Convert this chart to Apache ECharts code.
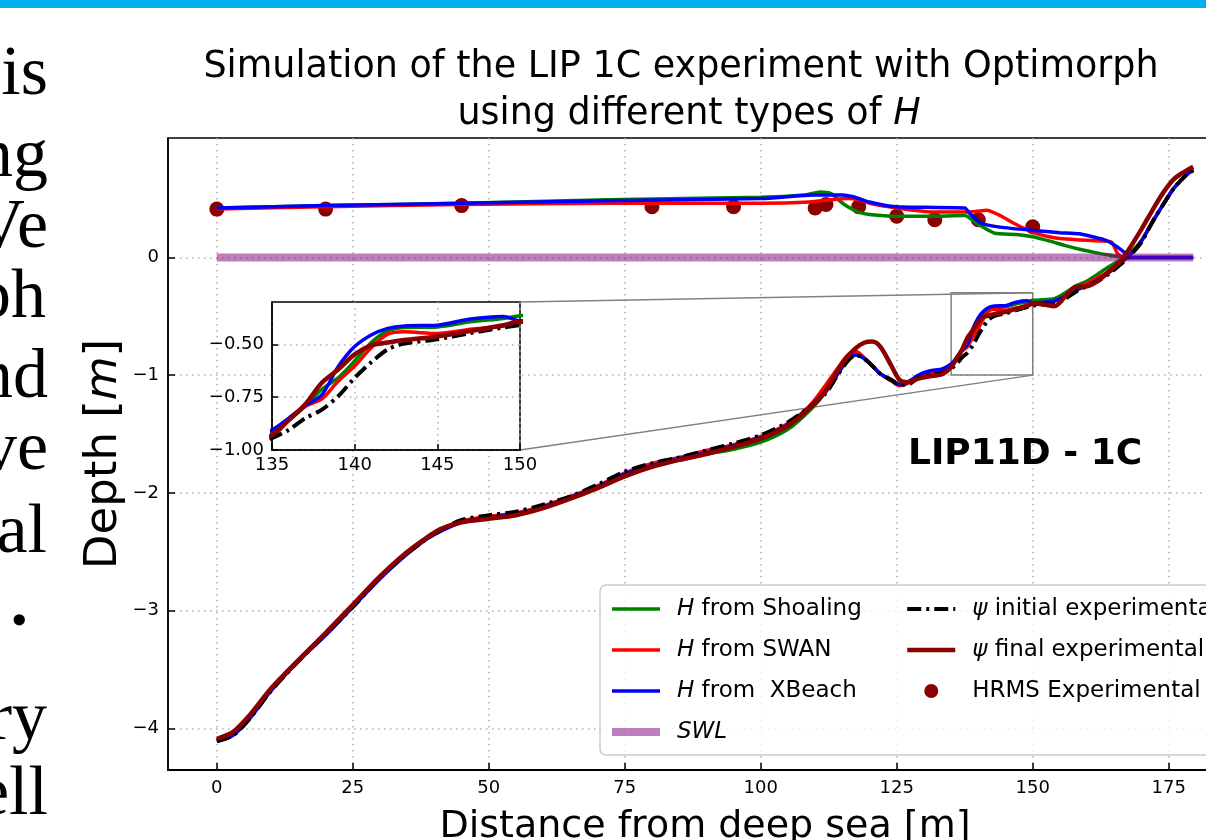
<!DOCTYPE html>
<html>
<head>
<meta charset="utf-8">
<script src="https://cdn.jsdelivr.net/npm/echarts@6/dist/echarts.min.js"></script>
<style>
  html, body { margin: 0; padding: 0; background: #fff; overflow: hidden; width: 1206px; height: 840px; }
  #bar { position: absolute; left: 0; top: 0; width: 1206px; height: 8px; background: #00b0f0; }
  .side { position: absolute; left: 0; width: 50px; height: 80px; overflow: hidden; font-family: 'Liberation Serif', 'DejaVu Serif', serif; font-size: 70px; line-height: 70px; color: #000; }
  .side span { position: absolute; top: 0; white-space: nowrap; }
  #main { position: absolute; left: 0; top: 0; width: 1300px; height: 840px; }
</style>
</head>
<body>
<div id="bar"></div>
<div id="side"></div>
<div id="main"></div>
<script>
// slide text showing at the left of the figure: [text, baseline y, right edge]
const sideText = [['is', 95, 48], ['ng', 177, 48], ['Ve', 248, 48], ['ph', 318, 46], ['nd', 398, 48],
                  ['ve', 470, 48], ['al', 553, 47], ['.', 626, 28], ['ry', 740, 47], ['ell', 815, 48]];

// axes
const xTicks = [0, 25, 50, 75, 100, 125, 150, 175];
const yTicks = [-4, -3, -2, -1, 0];
const insetXTicks = [135, 140, 145, 150];
const insetYTicks = [-1.0, -0.75, -0.5];
const insetXRange = [135, 150];
const insetYRange = [-1.0, -0.3];

// bottom profiles (distance, depth)
const profX = [0, 3, 6, 10, 15, 20, 25, 30, 34, 38, 41, 45, 50, 55, 60, 65, 70, 75, 80, 85,
  90, 95, 100, 105, 109, 112, 114, 116, 117.5, 119, 120.5, 122, 124, 125.5, 127, 129, 131, 133.5, 135, 136,
  137, 138, 139, 140, 141, 142, 143, 145, 147, 149, 150, 152, 154, 156, 158, 160, 162, 164, 166, 167,
  168, 170, 172, 174, 176, 178, 179.5];
const finalExp = [-4.09, -4.03, -3.89, -3.66, -3.42, -3.19, -2.95, -2.71, -2.54, -2.40, -2.31, -2.25, -2.22, -2.19, -2.13, -2.05, -1.96, -1.86, -1.78, -1.72,
  -1.67, -1.61, -1.54, -1.43, -1.28, -1.13, -0.97, -0.84, -0.77, -0.725, -0.715, -0.76, -0.92, -1.04, -1.06, -1.03, -1.01, -0.99, -0.93, -0.86,
  -0.785, -0.683, -0.619, -0.548, -0.505, -0.492, -0.48, -0.463, -0.437, -0.41, -0.392, -0.40, -0.415, -0.33, -0.25, -0.245, -0.20, -0.12, -0.04, 0.02,
  0.09, 0.24, 0.40, 0.55, 0.667, 0.73, 0.77];
const initialExp = [-4.11, -4.06, -3.92, -3.68, -3.43, -3.20, -2.97, -2.72, -2.55, -2.41, -2.32, -2.23, -2.19, -2.16, -2.10, -2.03, -1.93, -1.82, -1.75, -1.70,
  -1.64, -1.58, -1.51, -1.40, -1.27, -1.15, -1.01, -0.88, -0.83, -0.86, -0.92, -0.99, -1.04, -1.08, -1.08, -1.02, -1.00, -0.98, -0.944, -0.905,
  -0.85, -0.81, -0.746, -0.659, -0.585, -0.524, -0.497, -0.476, -0.447, -0.421, -0.41, -0.40, -0.40, -0.35, -0.29, -0.245, -0.20, -0.14, -0.065, -0.025,
  0.02, 0.13, 0.30, 0.45, 0.59, 0.69, 0.74];
const xbeachProf = [-4.11, -4.06, -3.92, -3.68, -3.43, -3.21, -2.97, -2.73, -2.56, -2.41, -2.33, -2.25, -2.21, -2.18, -2.12, -2.04, -1.95, -1.84, -1.77, -1.71,
  -1.66, -1.60, -1.53, -1.42, -1.27, -1.13, -1.00, -0.87, -0.83, -0.86, -0.92, -0.99, -1.04, -1.08, -1.06, -1.00, -0.965, -0.945, -0.905, -0.85,
  -0.79, -0.74, -0.606, -0.511, -0.456, -0.425, -0.413, -0.41, -0.38, -0.368, -0.389, -0.38, -0.37, -0.33, -0.28, -0.24, -0.19, -0.13, -0.055, -0.015,
  0.025, 0.14, 0.30, 0.45, 0.59, 0.69, 0.745];
const shoalProf = [-4.10, -4.04, -3.90, -3.67, -3.43, -3.20, -2.96, -2.72, -2.55, -2.41, -2.32, -2.24, -2.21, -2.18, -2.12, -2.04, -1.95, -1.84, -1.77, -1.72,
  -1.67, -1.63, -1.57, -1.46, -1.30, -1.14, -1.00, -0.87, -0.83, -0.86, -0.92, -0.99, -1.04, -1.08, -1.06, -1.01, -0.975, -0.955, -0.92, -0.86,
  -0.794, -0.714, -0.659, -0.579, -0.492, -0.437, -0.421, -0.418, -0.394, -0.378, -0.365, -0.36, -0.35, -0.30, -0.24, -0.20, -0.14, -0.08, -0.025, 0.005,
  0.04, 0.145, 0.30, 0.45, 0.59, 0.69, 0.745];
const swanProf = [-4.10, -4.04, -3.90, -3.67, -3.42, -3.19, -2.96, -2.72, -2.55, -2.41, -2.32, -2.24, -2.20, -2.17, -2.11, -2.03, -1.94, -1.83, -1.75, -1.70,
  -1.64, -1.59, -1.52, -1.41, -1.26, -1.08, -0.95, -0.83, -0.80, -0.85, -0.92, -0.99, -1.05, -1.09, -1.07, -1.01, -0.98, -0.96, -0.937, -0.86,
  -0.794, -0.759, -0.675, -0.603, -0.516, -0.452, -0.441, -0.449, -0.429, -0.413, -0.397, -0.39, -0.37, -0.34, -0.27, -0.22, -0.17, -0.12, -0.05, -0.015,
  0.025, 0.14, 0.30, 0.45, 0.59, 0.69, 0.745];

// wave heights H
const shoalX = [0, 20, 45, 72, 100, 108, 111, 113, 114.5, 116, 118, 120, 125, 131, 137.5, 140, 143, 147, 150, 153, 156, 159, 162, 164, 166, 167, 170, 175, 179.5];
const shoalH = [0.42, 0.44, 0.46, 0.49, 0.51, 0.53, 0.555, 0.54, 0.48, 0.43, 0.385, 0.365, 0.35, 0.35, 0.355, 0.28, 0.205, 0.195, 0.175, 0.14, 0.10, 0.065, 0.036, 0.02, 0.005, 0, 0, 0, 0];
const swanX = [0, 20, 45, 72, 100, 109, 113, 116, 118, 120, 125, 131.5, 137.5, 139.5, 141.5, 144, 146.5, 150, 153, 155, 158, 162.5, 164.5, 165.5, 166.5, 170, 175, 179.5];
const swanH = [0.41, 0.43, 0.45, 0.46, 0.46, 0.47, 0.49, 0.50, 0.49, 0.46, 0.42, 0.385, 0.385, 0.39, 0.40, 0.356, 0.29, 0.215, 0.175, 0.16, 0.15, 0.14, 0.13, 0.04, 0, 0, 0, 0];
const xbeachX = [0, 20, 45, 72, 100, 110, 115, 117, 120, 122.5, 125, 130, 137.5, 138.5, 140.5, 144, 150, 155, 158.5, 161, 163.5, 165.5, 166.8, 168, 170, 175, 179.5];
const xbeachH = [0.42, 0.44, 0.46, 0.48, 0.50, 0.53, 0.53, 0.515, 0.47, 0.445, 0.43, 0.425, 0.42, 0.37, 0.29, 0.257, 0.229, 0.21, 0.20, 0.175, 0.144, 0.09, 0.045, 0, 0, 0, 0];

// HRMS measurements
const hrmsX = [0, 20, 45, 80, 95, 110, 112, 118, 125, 132, 140, 150];
const hrmsY = [0.41, 0.41, 0.44, 0.43, 0.43, 0.42, 0.45, 0.43, 0.35, 0.32, 0.32, 0.26];

// still water level
const swlX = [0, 179.5];
const swlY = [0, 0];

const FONT = 'DejaVu Sans';
const pts = (xs, ys) => xs.map((x, i) => [x, ys[i]]);
const minus = v => (v < 0 ? '\u2212' + Math.abs(v) : String(v));

const sideDiv = document.getElementById('side');
sideText.forEach(([t, base, right]) => {
    const d = document.createElement('div');
    d.className = 'side';
    d.style.top = (base - 59) + 'px';
    if (t === '.') d.style.fontWeight = 'bold';
    d.innerHTML = '<span style="right:' + (50 - right) + 'px">' + t + '</span>';
    sideDiv.appendChild(d);
});

const names = {
    shoal: 'H from Shoaling', swan: 'H from SWAN', xbeach: 'H from  XBeach', swl: 'SWL',
    ini: '\u03c8 initial experimental', fin: '\u03c8 final experimental', hrms: 'HRMS Experimental'
};
const legendLabel = {
    [names.shoal]: '{i|H} from Shoaling', [names.swan]: '{i|H} from SWAN', [names.xbeach]: '{i|H} from  XBeach',
    [names.swl]: '{i|SWL}', [names.ini]: '{i|\u03c8} initial experimental', [names.fin]: '{i|\u03c8} final experimental',
    [names.hrms]: 'HRMS Experimental'
};

const lineSeries = (name, data, color, width, z, extra) => Object.assign({
    name: name, type: 'line', data: data, symbol: 'none', showSymbol: false, smooth: 0.3,
    lineStyle: { color: color, width: width }, itemStyle: { color: color }, z: z, silent: true
}, extra || {});

const dashDot = [14, 5, 3, 5];
const profiles = (xi, yi, z) => [
    lineSeries(names.shoal, pts(profX, shoalProf), '#008000', 3.5, z, { xAxisIndex: xi, yAxisIndex: yi }),
    lineSeries(names.swan, pts(profX, swanProf), '#ff0000', 3.5, z, { xAxisIndex: xi, yAxisIndex: yi }),
    lineSeries(names.xbeach, pts(profX, xbeachProf), '#0000ff', 3.5, z, { xAxisIndex: xi, yAxisIndex: yi }),
    lineSeries(names.ini, pts(profX, initialExp), '#000000', 4, z + 1,
        { xAxisIndex: xi, yAxisIndex: yi, lineStyle: { color: '#000', width: 4, type: dashDot } }),
    lineSeries(names.fin, pts(profX, finalExp), '#8b0000', 4.5, z + 2, { xAxisIndex: xi, yAxisIndex: yi })
];

const gridLine = { show: true, lineStyle: { color: '#b0b0b0', width: 1.5, type: [1.5, 4.5] } };
const black = { color: '#000', width: 1.5 };
const legendText = {
    fontSize: 23, color: '#000', fontFamily: FONT, padding: [0, 0, 0, 12], lineHeight: 24,
    rich: { i: { fontSize: 23, fontStyle: 'italic', fontFamily: FONT } }
};

const chart = echarts.init(document.getElementById('main'));
chart.setOption({
    animation: false,
    backgroundColor: 'transparent',
    textStyle: { fontFamily: FONT },
    grid: [
        { left: 168, top: 138, width: 1074, height: 632, outerBoundsMode: 'none', show: true,
          borderColor: '#000', borderWidth: 1.5, backgroundColor: 'transparent' },
        { left: 272, top: 302, width: 248, height: 148, outerBoundsMode: 'none', show: true,
          borderColor: '#000', borderWidth: 1.5, backgroundColor: '#fff', z: 10 }
    ],
    xAxis: [
        {
            type: 'value', gridIndex: 0, min: -8.975, max: 188.475,
            name: 'Distance from deep sea [m]', nameLocation: 'middle', nameGap: 38,
            nameTextStyle: { fontSize: 38, color: '#000', fontFamily: FONT },
            axisLine: { show: true, onZero: false, lineStyle: { color: '#000', width: 2 } },
            axisTick: { show: true, inside: true, length: 7, lineStyle: black, customValues: xTicks },
            axisLabel: { customValues: xTicks, fontSize: 18, color: '#000', margin: 9, formatter: minus },
            splitLine: gridLine
        },
        {
            type: 'value', gridIndex: 1, min: insetXRange[0], max: insetXRange[1], z: 11,
            axisLine: { show: true, onZero: false, lineStyle: black },
            axisTick: { show: true, inside: true, length: 6, lineStyle: black, customValues: insetXTicks },
            axisLabel: { customValues: insetXTicks, fontSize: 18, color: '#000', margin: 6 },
            splitLine: gridLine
        }
    ],
    yAxis: [
        {
            type: 'value', gridIndex: 0, min: -4.354, max: 1.014,
            name: 'Depth [{i|m}]', nameLocation: 'middle', nameGap: 41, nameMoveOverlap: false,
            nameTextStyle: { fontSize: 45, color: '#000', fontFamily: FONT, rich: { i: { fontSize: 45, fontStyle: 'italic', fontFamily: FONT } } },
            axisLine: { show: true, onZero: false, lineStyle: black },
            axisTick: { show: true, inside: true, length: 7, lineStyle: black, customValues: yTicks },
            axisLabel: { customValues: yTicks, fontSize: 18, color: '#000', margin: 9, formatter: minus },
            splitLine: gridLine
        },
        {
            type: 'value', gridIndex: 1, min: insetYRange[0], max: insetYRange[1], z: 11,
            axisLine: { show: true, onZero: false, lineStyle: black },
            axisTick: { show: true, inside: true, length: 6, lineStyle: black, customValues: insetYTicks },
            axisLabel: { customValues: insetYTicks, fontSize: 18, color: '#000', margin: 8, formatter: v => '\u2212' + Math.abs(v).toFixed(2) },
            splitLine: gridLine
        }
    ],
    legend: [
        {
            data: [names.shoal, names.swan, names.xbeach, names.swl],
            left: 608, top: 597, padding: 0, orient: 'vertical', itemWidth: 48, itemHeight: 14, itemGap: 17,
            selectedMode: false, z: 6, formatter: n => legendLabel[n],
            lineStyle: { width: 'inherit' }, itemStyle: { opacity: 0 },
            textStyle: legendText
        },
        {
            data: [names.ini, names.fin, { name: names.hrms, itemStyle: { opacity: 1 } }],
            left: 905, top: 597, padding: 0, orient: 'vertical', itemWidth: 48, itemHeight: 14, itemGap: 17,
            selectedMode: false, z: 6, formatter: n => legendLabel[n],
            lineStyle: { width: 'inherit' }, itemStyle: { opacity: 0 },
            textStyle: legendText
        }
    ],
    series: [
        { name: names.hrms, type: 'scatter', data: pts(hrmsX, hrmsY), symbol: 'circle', symbolSize: 15,
          itemStyle: { color: '#8b0000', opacity: 1 }, z: 2, silent: true },
        lineSeries(names.shoal, pts(shoalX, shoalH), '#008000', 3.5, 3, { smooth: 0.2 }),
        lineSeries(names.swan, pts(swanX, swanH), '#ff0000', 3.5, 3, { smooth: 0.2 }),
        lineSeries(names.xbeach, pts(xbeachX, xbeachH), '#0000ff', 3.5, 3, { smooth: 0.2 }),
        ...profiles(0, 0, 3),
        lineSeries(names.swl, pts(swlX, swlY), 'rgba(128,0,128,0.5)', 8, 4, { smooth: false })
    ].concat(profiles(1, 1, 12))
});

// zoom box and connectors in pixel space
const px = (g, x, y) => chart.convertToPixel({ gridIndex: g }, [x, y]);
const boxTL = px(0, insetXRange[0], insetYRange[1]);
const boxBR = px(0, insetXRange[1], insetYRange[0]);
const insTR = px(1, insetXRange[1], insetYRange[1]);
const insBR = px(1, insetXRange[1], insetYRange[0]);
const gray = { stroke: '#808080', lineWidth: 1.5, fill: null };

chart.setOption({
    graphic: [
        { type: 'text', x: 681, y: 68, style: { text: 'Simulation of the LIP 1C experiment with Optimorph', fontSize: 36.5, fontFamily: FONT, fill: '#000', align: 'center', verticalAlign: 'middle' } },
        { type: 'text', x: 689, y: 115, style: { text: 'using different types of {i|H}', fontSize: 36.5, fontFamily: FONT, fill: '#000', align: 'center', verticalAlign: 'middle',
            rich: { i: { fontSize: 36.5, fontStyle: 'italic', fontFamily: FONT } } } },
        { type: 'text', x: 908, y: 455, style: { text: 'LIP11D - 1C', fontSize: 36, fontWeight: 'bold', fontFamily: FONT, fill: '#000', align: 'left', verticalAlign: 'middle' } },
        { type: 'rect', z: 5, shape: { x: 600, y: 585, width: 640, height: 170, r: 6 }, style: { fill: 'rgba(255,255,255,0.8)', stroke: '#cccccc', lineWidth: 1.5 } },
        { type: 'rect', z: 1, shape: { x: boxTL[0], y: boxTL[1], width: boxBR[0] - boxTL[0], height: boxBR[1] - boxTL[1] }, style: gray },
        { type: 'line', z: 1, shape: { x1: insTR[0], y1: insTR[1], x2: boxBR[0], y2: boxTL[1] }, style: gray },
        { type: 'line', z: 1, shape: { x1: insBR[0], y1: insBR[1], x2: boxBR[0], y2: boxBR[1] }, style: gray }
    ]
});
</script>
</body>
</html>
